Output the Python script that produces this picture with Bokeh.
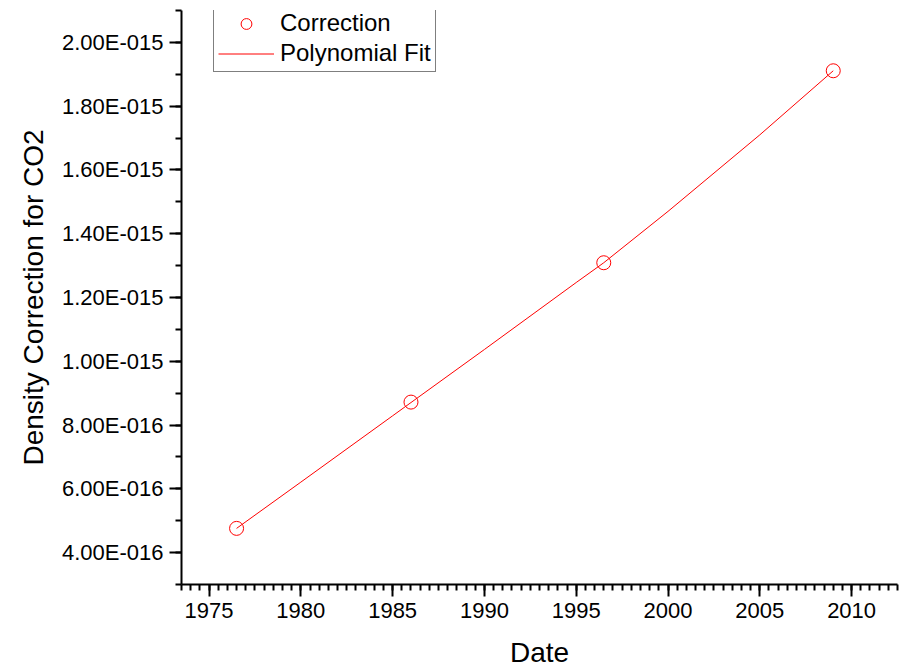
from bokeh.plotting import figure
from bokeh.models import FixedTicker, Range1d, Legend, LegendItem, ColumnDataSource, Title
from bokeh.embed import file_html
from bokeh.resources import INLINE
import numpy as np

# ---- data ----
years = [1976.5, 1986.0, 1996.5, 2009.0]
correction = [4.76e-16, 8.72e-16, 1.309e-15, 1.911e-15]

fit_years = [1976.5, 1980.0, 1985.0, 1990.0, 1995.0, 1996.5, 2000.0, 2005.0, 2009.0]
fit_values = [4.76e-16, 6.21e-16, 8.29e-16, 1.037e-15, 1.247e-15, 1.309e-15, 1.470e-15, 1.710e-15, 1.911e-15]

xtick_vals = [1975, 1980, 1985, 1990, 1995, 2000, 2005, 2010]
ytick_vals = [4e-16, 6e-16, 8e-16, 1.0e-15, 1.2e-15, 1.4e-15, 1.6e-15, 1.8e-15, 2.0e-15]
ytick_labels = ["4.00E-016", "6.00E-016", "8.00E-016", "1.00E-015", "1.20E-015",
                "1.40E-015", "1.60E-015", "1.80E-015", "2.00E-015"]

x_title = "Date"
y_title = "Density Correction for CO2"

FONT = "Liberation Sans"

p = figure(width=905, height=670, output_backend="svg", toolbar_location=None,
           x_range=Range1d(1973.5, 2012.5), y_range=Range1d(3e-16, 2.1e-15),
           min_border_left=181, min_border_right=8, min_border_top=10, min_border_bottom=85)
p.outline_line_color = None
p.xgrid.visible = False
p.ygrid.visible = False
p.background_fill_color = "white"
p.border_fill_color = "white"

src = ColumnDataSource(dict(x=years, y=correction))
fsrc = ColumnDataSource(dict(x=fit_years, y=fit_values))

r_fit = p.line("x", "y", source=fsrc, line_color="#ff0000", line_width=1)
r_pts = p.scatter("x", "y", source=src, marker="circle", size=14, fill_color=None,
                  line_color="#ff0000", line_width=1)

# axes
xminor = list(np.arange(1973.5, 2012.51, 0.5))
yminor = [v * 1e-16 for v in range(3, 22)]
p.xaxis.ticker = FixedTicker(ticks=xtick_vals, minor_ticks=xminor)
p.yaxis.ticker = FixedTicker(ticks=ytick_vals, minor_ticks=yminor)
p.yaxis.major_label_overrides = {v: l for v, l in zip(ytick_vals, ytick_labels)}

for ax in (p.xaxis[0], p.yaxis[0]):
    ax.axis_line_width = 2
    ax.axis_line_color = "black"
    ax.major_tick_line_width = 2
    ax.minor_tick_line_width = 2
    ax.major_tick_out = 12
    ax.major_tick_in = 0
    ax.minor_tick_out = 6
    ax.minor_tick_in = 0
    ax.major_label_text_font = FONT
    ax.major_label_text_font_size = "22px"
    ax.major_label_text_color = "black"
    ax.major_label_standoff = 6
    ax.axis_label_text_font = FONT
    ax.axis_label_text_font_size = "28px"
    ax.axis_label_text_font_style = "normal"
    ax.axis_label_text_color = "black"

p.xaxis.axis_label = x_title
p.xaxis.axis_label_standoff = 16

# y title as a left-side title so it can sit slightly below the frame centre
ytitle = Title(text=y_title, align="center", offset=-13, standoff=20,
               text_font=FONT, text_font_size="28px", text_font_style="normal",
               text_color="black")
p.add_layout(ytitle, "left")

legend = Legend(items=[LegendItem(label="Correction", renderers=[r_pts]),
                       LegendItem(label="Polynomial Fit", renderers=[r_fit])],
                location=(32, 512), orientation="vertical")
legend.label_text_font = FONT
legend.label_text_font_size = "24px"
legend.label_text_color = "black"
legend.glyph_width = 56
legend.glyph_height = 27
legend.label_height = 27
legend.label_standoff = 6
legend.spacing = 2
legend.padding = 4
legend.margin = 0
legend.border_line_color = "black"
legend.border_line_width = 1
legend.background_fill_color = "white"
legend.background_fill_alpha = 1
p.add_layout(legend, "center")

open("out.html", "w").write(file_html(p, INLINE))
